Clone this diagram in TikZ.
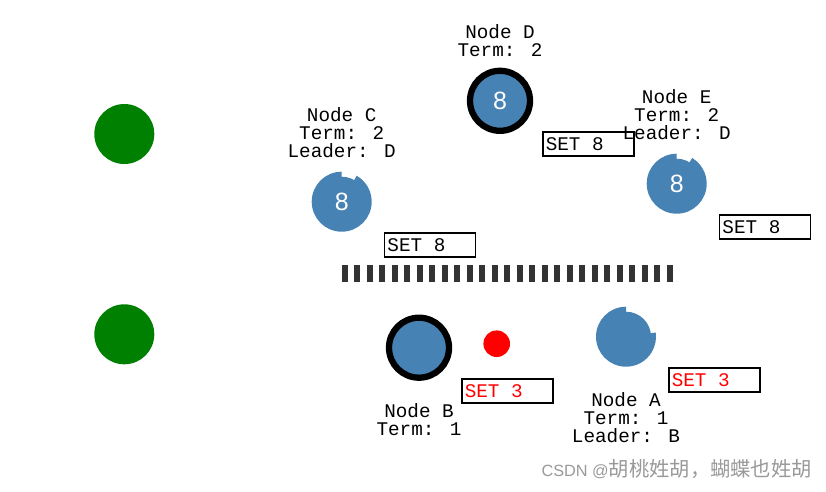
\documentclass[tikz,border=0pt]{standalone}
\usepackage{fontspec}
\usetikzlibrary{positioning,backgrounds}
\newfontfamily\monofont{Liberation Mono}
\newfontfamily\digitfont{Liberation Sans}
\newfontfamily\cjkfont{Noto Sans CJK SC}
\definecolor{steel}{RGB}{70,130,180}
\definecolor{idlegreen}{RGB}{0,128,0}
\definecolor{wall}{RGB}{51,51,51}
\begin{document}
\begin{tikzpicture}[x=1pt,y=1pt,
    srv/.style={circle,inner sep=0pt,minimum size=50pt,fill=steel,text=white,font=\digitfont\fontsize{25}{25}\selectfont},
    leader/.style={minimum size=60pt,draw=black,line width=6.3pt},
    idle/.style={circle,inner sep=0pt,minimum size=60pt,fill=idlegreen},
    msg/.style={circle,inner sep=0pt,minimum size=26.6pt,fill=red},
    info/.style={inner sep=0pt,align=center,font=\monofont\fontsize{19.3}{18}\selectfont},
    setbox/.style={draw=black,line width=1.5pt,inner xsep=3pt,inner ysep=0pt,
      text height=18.4pt,text depth=5.6pt,font=\monofont\fontsize{19.3}{18}\selectfont,
      execute at begin node={\hbox to 85pt\bgroup},execute at end node={\hfil\egroup}},
    partition/.style={draw=wall,line width=16.7pt,dash pattern=on 6pt off 6.5pt}]
  \useasboundingbox (0,0) rectangle (826,491);
  % two nodes that are down
  \node[idle] (g1) at (124.3,357) {};
  \node[idle] (g2) at (124.3,156.7) {};
  % servers
  \node[srv,leader] (d) at (500,390.2) {8};
  \node[srv] (c) at (341.7,289.3) {8};
  \node[srv] (e) at (676.7,307.3) {8};
  \node[srv,leader] (b) at (419,143.3) {};
  \node[srv] (a) at (626,154.3) {};
  \node[msg] (m) at (496.7,147.3) {};
  \begin{scope}[on background layer]
    \fill[steel] (c.center) -- ++(90:30) arc[start angle=90,end angle=420,radius=30] -- cycle;
    \fill[steel] (e.center) -- ++(90:30) arc[start angle=90,end angle=419,radius=30] -- cycle;
    \fill[steel] (a.center) -- ++(90:30) arc[start angle=90,end angle=368,radius=30] -- cycle;
  \end{scope}
  % labels
  \node[info,anchor=base] (ld) at (500,434.2) {Node D\\Term: 2};
  \node[info,anchor=base] (lc) at (341.7,333.3) {Node C\\Term: 2\\Leader: D};
  \node[info,anchor=base] (le) at (676.7,351.3) {Node E\\Term: 2\\Leader: D};
  \node[info,anchor=base] (lb) at (419,55.3) {Node B\\Term: 1};
  \node[info,anchor=base] (la) at (626,48.3) {Node A\\Term: 1\\Leader: B};
  % messages
  \node[setbox,below right=30.6pt and 42pt of d.center] (sd) {SET 8};
  \node[setbox,below right=30.6pt and 42pt of c.center] (sc) {SET 8};
  \node[setbox,below right=30.6pt and 42pt of e.center] (se) {SET 8};
  \node[setbox,text=red,below right=30.6pt and 42pt of b.center] (sb) {SET 3};
  \node[setbox,text=red,below right=30.6pt and 42pt of a.center] (sa) {SET 3};
  % network partition
  \draw[partition] (341.7,217.7) -- (672.7,217.7);
  \node[anchor=base east,inner sep=0pt,text=black!40] (wm) at (812,14.3)
    {\digitfont\fontsize{16.3}{18}\selectfont CSDN @\cjkfont\fontsize{20.3}{22}\selectfont 胡桃姓胡，蝴蝶也姓胡};
\end{tikzpicture}
\end{document}
